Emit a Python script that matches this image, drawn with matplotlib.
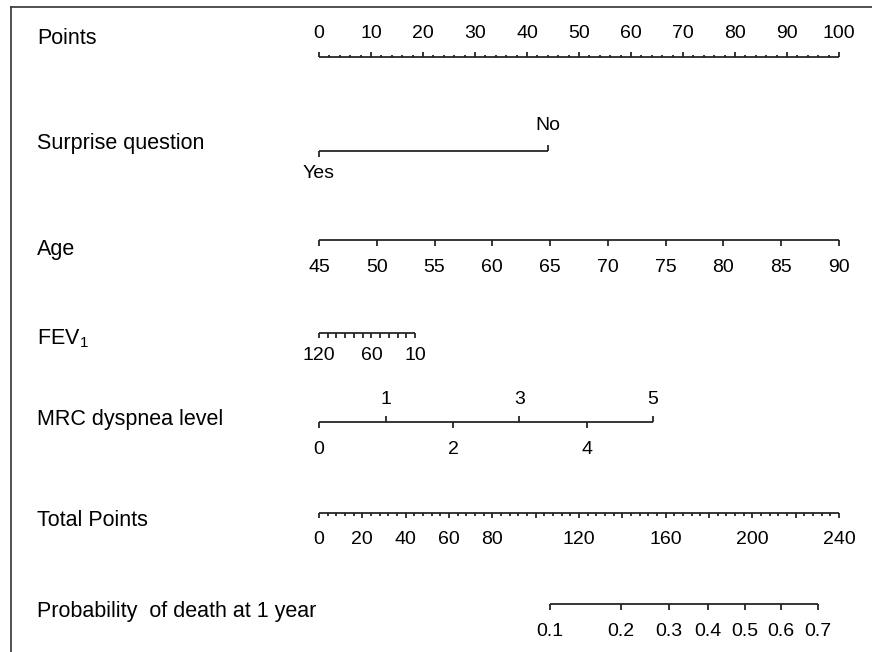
import numpy as np
import matplotlib
matplotlib.use("Agg")
import matplotlib.pyplot as plt
import matplotlib.transforms as mtransforms

plt.rcParams['font.family'] = ['Liberation Sans', 'DejaVu Sans']
plt.rcParams['mathtext.fontset'] = 'custom'
plt.rcParams['mathtext.rm'] = 'Liberation Sans'
plt.rcParams['mathtext.it'] = 'Liberation Sans:italic'

# ---------------- data ----------------
row_labels = ["Points", "Surprise question", "Age", "FEV$_\\mathregular{1}$",
              "MRC dyspnea level", "Total Points", "Probability  of death at 1 year"]

points_ticks = list(range(0, 101, 10))
points_minor = list(range(0, 101, 2))

surprise_levels = ["Yes", "No"]
surprise_points = [0.0, 44.0]

age_ticks = [45, 50, 55, 60, 65, 70, 75, 80, 85, 90]
age_range = [45, 90]
age_points_range = [0.0, 100.0]

fev_ticks = [120, 110, 100, 90, 80, 70, 60, 50, 40, 30, 20, 10]
fev_labels = [120, 60, 10]
fev_range = [10, 120]
fev_points_range = [18.5, 0.0]

mrc_levels = [0, 1, 2, 3, 4, 5]
mrc_points = [0.0, 12.9, 25.8, 38.5, 51.5, 64.2]

total_major = list(range(0, 241, 20))
total_minor = list(range(0, 241, 4))
total_labels = [0, 20, 40, 60, 80, 120, 160, 200, 240]
total_max = 240

prob_ticks = [0.1, 0.2, 0.3, 0.4, 0.5, 0.6, 0.7]
prob_total_points = [106.6, 139.4, 161.5, 179.5, 196.6, 213.2, 230.1]

# ---------------- figure ----------------
W, H = 872, 652
fig = plt.figure(figsize=(W / 100, H / 100), dpi=100)
ax = fig.add_axes([0, 0, 1, 1])
x0_px, px_per_pt = 319.0, 5.2
ax.set_xlim(-x0_px / px_per_pt, (W - x0_px) / px_per_pt)
ax.set_ylim(H, 0)
ax.axis('off')

LC = '#1e1e1e'
LW = 1.25
TFS = 14
LFS = 15.5
TC = '#000000'

# border (top & left)
bx = -((x0_px - 11) / px_per_pt)
ax.plot([bx, (W - x0_px) / px_per_pt + 1], [6.5, 6.5],
        color='#333333', lw=1.2, clip_on=False)
ax.plot([bx, bx], [6.5, H + 2], color='#333333', lw=1.2, clip_on=False)

def axis_line(xmin, xmax, y):
    ax.plot([xmin, xmax], [y, y], color=LC, lw=LW, solid_capstyle='butt')

def ticks(xs, y, length, direction):
    for x in xs:
        ax.plot([x, x], [y, y + direction * length], color=LC, lw=LW,
                solid_capstyle='butt')

def labels(xs, texts, y, fs=TFS):
    for x, t in zip(xs, texts):
        ax.text(x, y, str(t), ha='center', va='center', fontsize=fs, color=TC)

# row labels
label_y = [38, 143, 249, 339, 419, 521, 611]
lt = mtransforms.blended_transform_factory(fig.transFigure, ax.transData)
for lab, y in zip(row_labels, label_y):
    ax.text(37 / W, y, lab, transform=lt, ha='left', va='center', fontsize=LFS,
            color=TC)

# Points
yP = 57.3
axis_line(0, 100, yP)
ticks([p for p in points_minor if p % 10], yP, 2.8, -1)
ticks(points_ticks, yP, 5, -1)
labels(points_ticks, points_ticks, 33)

# Surprise question
yS = 150.5
axis_line(surprise_points[0], surprise_points[1], yS)
ticks([surprise_points[0]], yS, 6, 1)
ticks([surprise_points[1]], yS, 6, -1)
ax.text(surprise_points[0], 173, surprise_levels[0], ha='center', va='center',
        fontsize=TFS, color=TC)
ax.text(surprise_points[1], 126, surprise_levels[1], ha='center', va='center',
        fontsize=TFS, color=TC)

# Age
yA = 240
age_pts = np.interp(age_ticks, age_range, age_points_range)
axis_line(age_pts[0], age_pts[-1], yA)
ticks(age_pts, yA, 6, 1)
labels(age_pts, age_ticks, 268)

# FEV1
yF = 332.5
fev_pts = np.interp(fev_ticks, fev_range, fev_points_range)
axis_line(min(fev_pts), max(fev_pts), yF)
ticks(fev_pts, yF, 5, 1)
labels(np.interp(fev_labels, fev_range, fev_points_range), fev_labels, 356)

# MRC dyspnea level
yM = 421.7
axis_line(mrc_points[0], mrc_points[-1], yM)
for lv, p in zip(mrc_levels, mrc_points):
    if lv % 2 == 0:
        ticks([p], yM, 6, 1)
        labels([p], [lv], 450)
    else:
        ticks([p], yM, 6, -1)
        labels([p], [lv], 399)

# Total points
yT = 513.3
to_pts = lambda t: np.asarray(t, dtype=float) * 100.0 / total_max
axis_line(0, 100, yT)
ticks(to_pts([t for t in total_minor if t % 20]), yT, 2.8, 1)
ticks(to_pts(total_major), yT, 5, 1)
labels(to_pts(total_labels), total_labels, 539)

# Probability
yR = 604
pr_pts = to_pts(prob_total_points)
axis_line(pr_pts[0], pr_pts[-1], yR)
ticks(pr_pts, yR, 6, 1)
labels(pr_pts, [f"{p:.1f}" for p in prob_ticks], 631)

fig.savefig("out.png", dpi=100)
